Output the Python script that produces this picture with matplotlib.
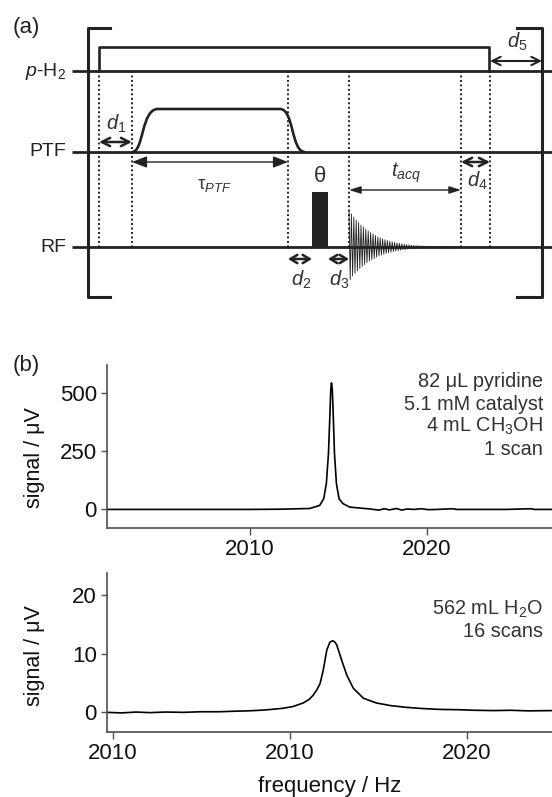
"""
(a) pulse sequence scheme  (b) two spectra
"""
import numpy as np
import matplotlib
matplotlib.use('Agg')
import matplotlib.pyplot as plt
from matplotlib.path import Path
from matplotlib.patches import PathPatch, Rectangle, FancyArrowPatch

plt.rcParams['font.family'] = ['Liberation Sans', 'DejaVu Sans']
plt.rcParams['mathtext.fontset'] = 'custom'
plt.rcParams['mathtext.rm'] = 'Liberation Sans'
plt.rcParams['mathtext.it'] = 'Liberation Sans:italic'
plt.rcParams['mathtext.bf'] = 'Liberation Sans:bold'

# ---- (a) sequence timing (arb. time units along the scheme) ----
CHANNELS = ['$p$-H$_2$', 'PTF', 'RF']
BRACKET = (88, 542)
PH2_ON, PH2_OFF = 99, 489
PTF_ON, PTF_OFF = 132, 288
PTF_RAMP = 26
PULSE_ON, PULSE_OFF = 312, 328
ACQ_ON, ACQ_OFF = 349, 461
EVENT_T = [99, 132, 288, 349, 461, 490]
# FID envelope, one value per oscillation
FID_AMP = [37, 33, 30, 27, 24.5, 22, 20, 18, 16, 14.5, 13, 11.5, 10.3, 9.2, 8.2,
           7.3, 6.5, 5.8, 5.1, 4.5, 4.0, 3.5, 3.1, 2.7, 2.4, 2.1, 1.8, 1.6, 1.4,
           1.2, 1.05, 0.9, 0.8, 0.7, 0.6, 0.5, 0.4, 0.35, 0.3, 0.25, 0.2, 0.15,
           0.1, 0.1, 0.05, 0.0]

# ---- (b) spectra ----
TOP_F = [2001.9, 2004.0, 2006.0, 2008.0, 2010.0, 2011.7, 2013.39, 2013.95, 2014.18,
         2014.33, 2014.45, 2014.52, 2014.58, 2014.62, 2014.67, 2014.73, 2014.79,
         2014.90, 2015.05, 2015.27, 2015.65, 2016.21, 2016.8, 2017.3, 2017.6,
         2017.9, 2018.3, 2018.6, 2018.9, 2019.3, 2019.7, 2020.1, 2020.6, 2021.5,
         2021.7, 2023.0, 2024.5, 2025.9, 2026.1, 2027.1]
TOP_S = [0, 0, 0, 0, 0, 1, 4, 17, 46, 111, 241, 385, 515, 545, 515, 385, 241,
         111, 46, 25, 10, 6, 2, -3, 3, -2, 4, -3, 2, 0, 3, -1, 0, 3,
         0, 0, 0, 3, 0, 0]

BOT_F = [1999.66, 2000.5, 2001.3, 2002.1, 2003.0, 2004.0, 2005.0, 2006.0, 2007.0,
         2007.8, 2008.6, 2009.6, 2010.2, 2010.77, 2011.1, 2011.34, 2011.55,
         2011.72, 2011.9, 2012.1, 2012.28, 2012.44, 2012.55, 2012.66, 2012.94,
         2013.23, 2013.6, 2014.17, 2014.9, 2015.7, 2016.6, 2017.5, 2018.5,
         2019.5, 2020.5, 2021.5, 2022.5, 2023.5, 2024.83]
BOT_S = [0.0, -0.1, 0.05, -0.05, 0.05, 0.0, 0.1, 0.1, 0.2, 0.27, 0.4, 0.68,
         1.0, 1.6, 2.2, 2.95, 3.9, 4.9, 7.2, 10.6, 12.0, 12.2, 12.0, 11.5, 8.9,
         6.35, 4.1, 2.4, 1.6, 1.15, 0.85, 0.65, 0.5, 0.45, 0.35, 0.3, 0.35,
         0.25, 0.3]
BOT_TICKS = [2000, 2010, 2020]
BOT_TICKLABELS = ['2010', '2010', '2020']

TOP_NOTE = ['82 μL pyridine', '5.1 mM catalyst', '4 mL CH$_3$OH', '1 scan']
BOT_NOTE = ['562 mL H$_2$O', '16 scans']

INK = '#222222'
W, H = 552, 797
fig = plt.figure(figsize=(W / 100, H / 100), dpi=100)

# ================= (a) =================
ax = fig.add_axes([0, 1 - 310 / H, 1, 310 / H])
ax.set_xlim(0, W)
ax.set_ylim(310, 0)
ax.axis('off')

rows = [71, 152, 247]
for name, y in zip(CHANNELS, rows):
    ax.plot([72, W], [y, y], color=INK, lw=2.0, solid_capstyle='butt')
    ax.text(66, y, name, ha='right', va='center', fontsize=14, color=INK)

# brackets
b0, b1 = BRACKET
ax.plot([b0 + 22, b0, b0, b0 + 22], [28, 28, 297, 297], color=INK, lw=2.2)
ax.plot([b1 - 25, b1, b1, b1 - 25], [28, 28, 297, 297], color=INK, lw=2.2)

# p-H2 on/off
ax.plot([PH2_ON, PH2_ON, PH2_OFF, PH2_OFF], [rows[0], 47, 47, rows[0]],
        color=INK, lw=1.9)

# PTF field ramp up / down
top = 109
yb = rows[1]
verts = [(PTF_ON, yb), (PTF_ON + 12, yb), (PTF_ON + 9, top), (PTF_ON + PTF_RAMP, top),
         (PTF_OFF - 8, top), (PTF_OFF + 6, top), (PTF_OFF + 3, yb), (PTF_OFF + 17, yb)]
codes = [Path.MOVETO, Path.CURVE4, Path.CURVE4, Path.CURVE4, Path.LINETO,
         Path.CURVE4, Path.CURVE4, Path.CURVE4]
ax.add_patch(PathPatch(Path(verts, codes), fill=False, lw=1.9, ec=INK))

# dotted event lines
for t in EVENT_T:
    ax.plot([t, t], [rows[0], rows[2]], color=INK, lw=1.4, ls=(0, (1, 1.3)))

# excitation pulse
ax.add_patch(Rectangle((PULSE_ON, 192), PULSE_OFF - PULSE_ON, rows[2] - 192,
                       color=INK, lw=0))

# FID
xs, ys = [], []
for i, a in enumerate(FID_AMP):
    x = ACQ_ON + 2.4 * i
    xs += [x, x + 1.2]
    ys += [rows[2] - a, rows[2] + a * 0.88]
ax.plot(xs, ys, color=INK, lw=0.6)
ax.plot([ACQ_ON, ACQ_OFF - 4], [rows[2], rows[2]], color=INK, lw=1.0)


def arrow(x0, x1, y, style='<->', lw=1.5, hl=0.6, hw=0.3):
    ax.add_patch(FancyArrowPatch((x0, y), (x1, y),
                                 arrowstyle=f'{style},head_length={hl},head_width={hw}',
                                 lw=lw, color=INK, shrinkA=0, shrinkB=0,
                                 mutation_scale=10))


arrow(PH2_ON, PTF_ON, 142, lw=1.8)
arrow(PTF_ON, PTF_OFF, 162, style='<|-|>', lw=1.0, hl=0.9, hw=0.35)
arrow(PTF_OFF, PULSE_ON, 259, lw=1.8, hl=0.5)
arrow(PULSE_OFF, ACQ_ON, 259, lw=1.8, hl=0.5)
arrow(ACQ_ON, ACQ_OFF, 190, style='<|-|>', lw=1.0, hl=0.7, hw=0.22)
arrow(ACQ_OFF, EVENT_T[-1], 162, lw=1.8)
arrow(EVENT_T[-1], b1, 61, lw=1.5)

lab = dict(ha='center', va='center', color='#333333')
ax.text(116, 124, '$d_1$', fontsize=14.5, **lab)
ax.text(214, 185, r'$\mathrm{τ}_{PTF}$', fontsize=13.5, **lab)
ax.text(320, 177, 'θ', fontsize=16, **lab)
ax.text(301, 280, '$d_2$', fontsize=14.5, **lab)
ax.text(339, 280, '$d_3$', fontsize=14.5, **lab)
ax.text(406, 173, '$t_{acq}$', fontsize=14.5, **lab)
ax.text(477, 181, '$d_4$', fontsize=14.5, **lab)
ax.text(517, 42, '$d_5$', fontsize=14.5, **lab)
ax.text(13, 27, '(a)', ha='left', va='center', fontsize=16, color=INK)

# ================= (b) =================
SPINE = '#505050'


def style_axes(a):
    for s in ['top', 'right']:
        a.spines[s].set_visible(False)
    for s in ['left', 'bottom']:
        a.spines[s].set_color(SPINE)
        a.spines[s].set_linewidth(1.2)
    a.tick_params(axis='both', colors=SPINE, labelcolor='#111111',
                  labelsize=16, width=1.0)
    a.tick_params(axis='y', length=4.5, pad=2.5)
    a.tick_params(axis='x', length=5, pad=3)


ax1 = fig.add_axes([106.7 / W, 1 - 528 / H, 1 - 106.7 / W, (528 - 365) / H])
ax1.plot(TOP_F, TOP_S, color='black', lw=1.2)
ax1.set_xlim(2001.9, 2027.1)
ax1.set_ylim(-80, 622)
ax1.set_xticks([2010, 2020])
ax1.set_yticks([0, 250, 500])
style_axes(ax1)
ax1.set_ylabel('signal / μV', fontsize=15.5, color='#111111')
ax1.yaxis.set_label_coords(-0.139, 0.43)
for i, line in enumerate(TOP_NOTE):
    fig.text(543 / W, 1 - (381.7 + 22.5 * i) / H, line, ha='right', va='center',
             fontsize=14.3, color='#333333')
fig.text(13 / W, 1 - 366 / H, '(b)', ha='left', va='center', fontsize=16, color=INK)

ax2 = fig.add_axes([106.7 / W, 1 - 731.7 / H, 1 - 106.7 / W, (731.7 - 572.7) / H])
ax2.plot(BOT_F, BOT_S, color='black', lw=1.2)
ax2.set_xlim(1999.66, 2024.83)
ax2.set_ylim(-3.3, 23.8)
ax2.set_xticks(BOT_TICKS)
ax2.set_xticklabels(BOT_TICKLABELS)
ax2.set_yticks([0, 10, 20])
style_axes(ax2)
ax2.set_ylabel('signal / μV', fontsize=15.5, color='#111111')
ax2.yaxis.set_label_coords(-0.139, 0.476)
ax2.set_xlabel('frequency / Hz', fontsize=16, color='#111111')
ax2.xaxis.set_label_coords(0.5, -0.279)
for i, line in enumerate(BOT_NOTE):
    fig.text(543 / W, 1 - (609.3 + 22.4 * i) / H, line, ha='right', va='center',
             fontsize=14.3, color='#333333')

fig.savefig('out.png', dpi=100)
